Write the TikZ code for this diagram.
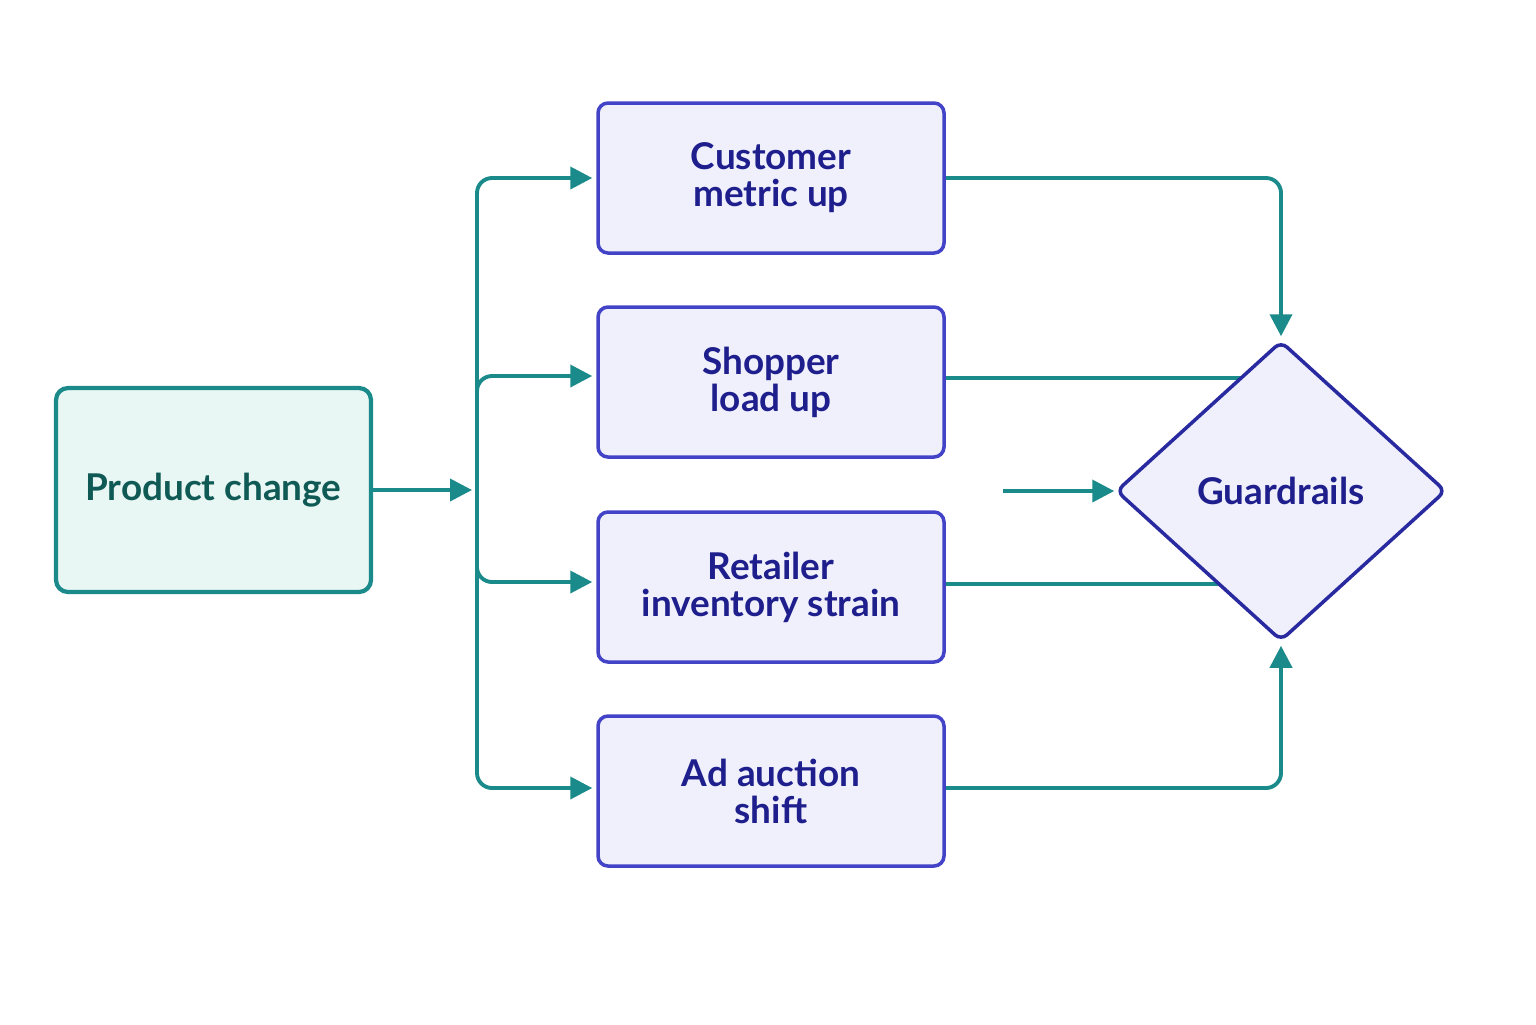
\documentclass[tikz,border=0pt]{standalone}
\usepackage{fontspec}
\setmainfont{Lato}
\usepackage{tikz}
\usetikzlibrary{shapes.geometric, arrows.meta, backgrounds, positioning}
\definecolor{tealline}{HTML}{1A8A8A}
\definecolor{tealfill}{HTML}{E8F6F4}
\definecolor{tealtext}{HTML}{0F5A55}
\definecolor{blueline}{HTML}{4343C8}
\definecolor{bluefill}{HTML}{EFF0FC}
\definecolor{bluetext}{HTML}{1E1E8C}
\definecolor{diamline}{HTML}{2A2AA0}
\tikzstyle{effect} = [rectangle, rounded corners=0.1cm, minimum width=3.46cm, minimum height=1.5cm, text centered, align=center, draw=blueline, line width=1pt, fill=bluefill, text=bluetext, font=\fontsize{10.5}{10.5}\bfseries]
\tikzstyle{source} = [rectangle, rounded corners=0.12cm, minimum width=3.15cm, minimum height=2.04cm, text centered, draw=tealline, line width=1.2pt, fill=tealfill, text=tealtext, font=\fontsize{10.5}{10.5}\bfseries]
\tikzstyle{check} = [diamond, minimum width=3.3cm, minimum height=3.0cm, inner sep=0pt, rounded corners=0.08cm, draw=diamline, line width=1pt, fill=bluefill, text=bluetext, font=\fontsize{10.5}{10.5}\bfseries]
\tikzstyle{arrow} = [tealline, line width=1.1pt, -{Triangle[length=0.22cm, width=0.22cm]}]
\tikzstyle{link} = [tealline, line width=1.1pt]

\begin{document}
\begin{tikzpicture}
        \useasboundingbox (0,0) rectangle (15.36,-10.24);
        \node (product) [source] at (2.135,-4.90) {Product change};
        \node (customer) [effect] at (7.71,-1.78) {Customer\\metric up};
        \node (shopper) [effect] at (7.71,-3.82) {Shopper\\load up};
        \node (retailer) [effect] at (7.71,-5.87) {Retailer\\inventory strain};
        \node (auction) [effect] at (7.71,-7.91) {Ad auction\\shift};
        \node (guard) [check] at (12.81,-4.91) {Guardrails};
        \coordinate (trunk) at (4.77,-4.90);
        \coordinate (feed) at (10.03,-4.91);

        \begin{scope}[on background layer]
        \draw [arrow, shorten >=0.05cm] (product) -- (trunk);
        \draw [arrow, rounded corners=0.15cm, shorten >=0.04cm] (trunk) |- (customer.west);
        \draw [arrow, rounded corners=0.15cm, shorten >=0.04cm] (trunk) |- ([yshift=0.06cm]shopper.west);
        \draw [arrow, rounded corners=0.15cm, shorten >=0.04cm] (trunk) |- ([yshift=0.05cm]retailer.west);
        \draw [arrow, rounded corners=0.15cm, shorten >=0.04cm] (trunk) |- ([yshift=0.03cm]auction.west);
        \draw [arrow, rounded corners=0.15cm, shorten >=0.03cm] (customer.east) -| (guard.north);
        \draw [link] ([yshift=0.04cm]shopper.east) -- ([yshift=0.04cm]shopper.east -| guard.center);
        \draw [link] ([yshift=0.03cm]retailer.east) -- ([yshift=0.03cm]retailer.east -| guard.center);
        \draw [arrow, rounded corners=0.15cm, shorten >=0.03cm] ([yshift=0.03cm]auction.east) -| (guard.south);
        \draw [arrow] (feed) -- (guard.west);
        \end{scope}
\end{tikzpicture}
\end{document}
